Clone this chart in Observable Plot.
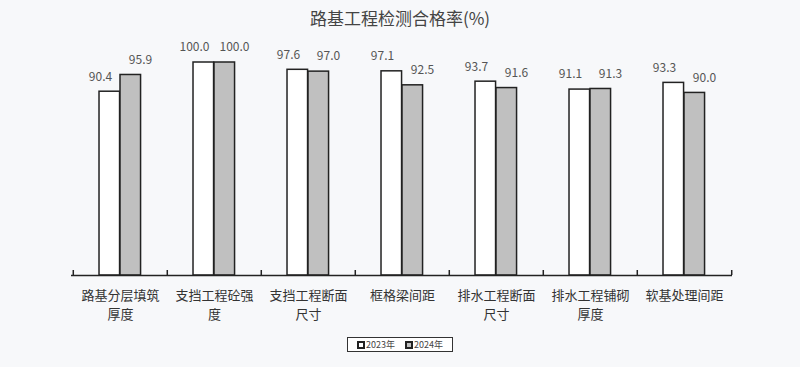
<!DOCTYPE html>
<html>
<head>
<meta charset="utf-8">
<script src="https://cdn.jsdelivr.net/npm/d3@7"></script>
<script src="https://cdn.jsdelivr.net/npm/@observablehq/plot@0.6"></script>
<style>
  html, body { margin: 0; padding: 0; background: #f7f8fa; }
  #wrap { position: relative; width: 800px; height: 367px; overflow: hidden; font-family: "Noto Sans CJK SC", sans-serif; }
  #title { position: absolute; top: 6px; left: 0; width: 800px; text-align: center; font-size: 17px; color: #444; line-height: 24px; }
  #chart { position: absolute; top: 30px; left: 0; }
  #legend { position: absolute; left: 347px; top: 337px; width: 104px; height: 13px; border: 1.5px solid #333; background: #fff;
            display: flex; align-items: center; justify-content: center; gap: 10px; font-size: 9px; color: #444; }
  .item { display: flex; align-items: center; gap: 1px; }
  .sw { width: 4px; height: 4px; border: 2px solid #222; }
</style>
</head>
<body>
<div id="wrap">
  <div id="title">路基工程检测合格率(%)</div>
  <div id="chart"></div>
  <div id="legend"></div>
</div>
<script>
const categories = ["路基分层填筑\n厚度", "支挡工程砼强\n度", "支挡工程断面\n尺寸", "框格梁间距", "排水工程断面\n尺寸", "排水工程铺砌\n厚度", "软基处理间距"];
const v2023 = [90.4, 100.0, 97.6, 97.1, 93.7, 91.1, 93.3];
const v2024 = [95.9, 100.0, 97.0, 92.5, 91.6, 91.3, 90.0];
const years = ["2023年", "2024年"];
const yBase = 30;
const yTop = 100;

const colors = ["#ffffff", "#c0c0c0"];
const W = 800, H = 300, mL = 71, mR = 68, mT = 32, mB = 55;
const bw = (W - mL - mR) / categories.length;
const rows = categories.map((c, i) => ({c, a: v2023[i], b: v2024[i]}));
const pxPerUnit = (H - mT - mB) / (yTop - yBase);
const font = "Noto Sans CJK SC";

const plot = Plot.plot({
  width: W, height: H,
  marginLeft: mL, marginRight: mR, marginTop: mT, marginBottom: mB,
  x: {type: "band", domain: categories, padding: 0, axis: null},
  y: {domain: [yBase, yTop], axis: null},
  style: {background: "transparent", fontFamily: font, overflow: "visible"},
  marks: [
    Plot.barY(rows, {x: "c", y1: yBase, y2: "a", fill: colors[0], stroke: "#222", strokeWidth: 1.5,
      insetLeft: bw * 0.2755, insetRight: bw - bw * 0.4977}),
    Plot.barY(rows, {x: "c", y1: yBase, y2: "b", fill: colors[1], stroke: "#222", strokeWidth: 1.5,
      insetLeft: bw * 0.4977, insetRight: bw - bw * 0.72}),
    Plot.ruleY([yBase], {stroke: "#222", strokeWidth: 1.5}),
    Plot.ruleX(categories, {x: d => d, dx: -bw / 2, y1: yBase, y2: yBase + 5 / pxPerUnit, stroke: "#222", strokeWidth: 1.5}),
    Plot.ruleX(categories.slice(-1), {x: d => d, dx: bw / 2, y1: yBase, y2: yBase + 5 / pxPerUnit, stroke: "#222", strokeWidth: 1.5}),
    Plot.text(rows, {x: "c", y: "a", text: d => d.a.toFixed(1), dx: -20, dy: -15, fontSize: 12, fill: "#555", letterSpacing: 0.5}),
    Plot.text(rows, {x: "c", y: "b", text: d => d.b.toFixed(1), dx: 20, dy: -15, fontSize: 12, fill: "#555", letterSpacing: 0.5}),
    Plot.text(rows, {x: "c", y: yBase, text: "c", dy: 11, lineAnchor: "top", lineHeight: 1.45, fontSize: 13, fill: "#333"})
  ]
});
document.getElementById("chart").appendChild(plot);

const legend = document.getElementById("legend");
years.forEach((y, i) => {
  const item = document.createElement("div");
  item.className = "item";
  const sw = document.createElement("span");
  sw.className = "sw";
  sw.style.background = colors[i];
  const t = document.createElement("span");
  t.textContent = y;
  item.appendChild(sw);
  item.appendChild(t);
  legend.appendChild(item);
});
</script>
</body>
</html>
